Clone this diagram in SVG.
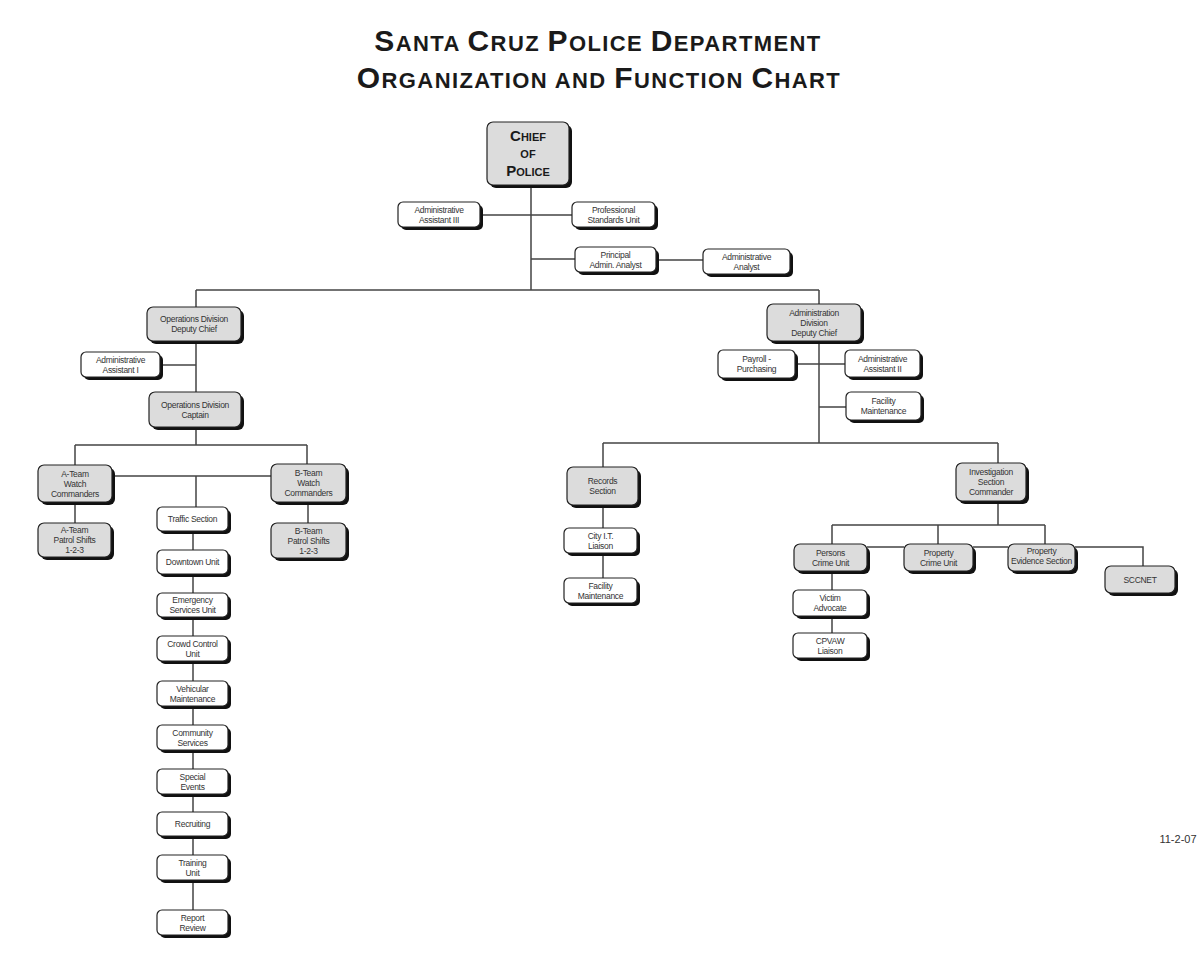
<svg xmlns="http://www.w3.org/2000/svg" width="1200" height="953" viewBox="0 0 1200 953">
<style>
.bg{fill:#ffffff}
.ttl{font-family:"Liberation Sans",Arial,sans-serif;font-weight:bold;fill:#1a1a1a;text-anchor:middle}
.tt{letter-spacing:1.4px}
.L{font-size:30px}
.s{font-size:22px}
.cL{font-size:15px}
.cs{font-size:11px}
.sh{fill:#111}
.w{fill:#ffffff;stroke:#222;stroke-width:1.2}
.g{fill:#dcdcdc;stroke:#222;stroke-width:1.2}
.t{font-family:"Liberation Sans",Arial,sans-serif;font-size:8.5px;fill:#333;text-anchor:middle;letter-spacing:-0.3px}
.ln{fill:none;stroke:#444;stroke-width:1.5}
.date{font-family:"Liberation Sans",Arial,sans-serif;font-size:11px;fill:#333;text-anchor:middle}
</style>
<rect class="bg" x="0" y="0" width="1200" height="953"/>
<g id="title">
<text class="ttl tt" x="598" y="51"><tspan class="L">S</tspan><tspan class="s">ANTA </tspan><tspan class="L">C</tspan><tspan class="s">RUZ </tspan><tspan class="L">P</tspan><tspan class="s">OLICE </tspan><tspan class="L">D</tspan><tspan class="s">EPARTMENT</tspan></text>
<text class="ttl tt" x="599" y="88"><tspan class="L">O</tspan><tspan class="s">RGANIZATION AND </tspan><tspan class="L">F</tspan><tspan class="s">UNCTION </tspan><tspan class="L">C</tspan><tspan class="s">HART</tspan></text>
</g>
<g id="connectors">
<path class="ln" d="M531 185V290M480 215H572M531 259H575M656 260H703"/>
<path class="ln" d="M196 290H819"/>
<path class="ln" d="M196 290V307M196 341V392M160 365H196M196 427V445M75 445H307M75 445V465M307 445V464M112 476H271M196 476V507M75 502V523M308 502V523M193 531V910"/>
<path class="ln" d="M819 290V304M819 341V443M795 364H845M819 407H846M603 443H998M603 443V467M998 443V463M603 505V578"/>
<path class="ln" d="M998 501V525M832 525H1045M832 525V544M938 525V544M1045 525V544M867 547H904M973 547H1008M1075 547H1143V566M832 571V633"/>
</g>
<g id="chief"><rect class="sh" x="490" y="125" width="82" height="63" rx="6"/><rect class="g" x="487" y="122" width="82" height="63" rx="6"/>
<text class="ttl" x="528" y="141"><tspan class="cL">C</tspan><tspan class="cs">HIEF</tspan></text>
<text class="ttl" x="528" y="158"><tspan class="cs">OF</tspan></text>
<text class="ttl" x="528" y="176"><tspan class="cL">P</tspan><tspan class="cs">OLICE</tspan></text></g>
<g id="aa3"><rect class="sh" x="401" y="205" width="82" height="25" rx="5"/><rect class="w" x="398" y="202" width="82" height="25" rx="5"/><text class="t" x="439" y="212.5">Administrative</text><text class="t" x="439" y="222.5">Assistant III</text></g>
<g id="psu"><rect class="sh" x="575" y="205" width="83" height="25" rx="5"/><rect class="w" x="572" y="202" width="83" height="25" rx="5"/><text class="t" x="613.5" y="212.5">Professional</text><text class="t" x="613.5" y="222.5">Standards Unit</text></g>
<g id="paa"><rect class="sh" x="578" y="250" width="81" height="25" rx="5"/><rect class="w" x="575" y="247" width="81" height="25" rx="5"/><text class="t" x="615.5" y="257.5">Principal</text><text class="t" x="615.5" y="267.5">Admin. Analyst</text></g>
<g id="aan"><rect class="sh" x="706" y="252" width="87" height="25" rx="5"/><rect class="w" x="703" y="249" width="87" height="25" rx="5"/><text class="t" x="746.5" y="259.5">Administrative</text><text class="t" x="746.5" y="269.5">Analyst</text></g>
<g id="opsdc"><rect class="sh" x="150" y="310" width="94" height="34" rx="6"/><rect class="g" x="147" y="307" width="94" height="34" rx="6"/><text class="t" x="194" y="322">Operations Division</text><text class="t" x="194" y="332">Deputy Chief</text></g>
<g id="aa1"><rect class="sh" x="84" y="355" width="79" height="25" rx="5"/><rect class="w" x="81" y="352" width="79" height="25" rx="5"/><text class="t" x="120.5" y="362.5">Administrative</text><text class="t" x="120.5" y="372.5">Assistant I</text></g>
<g id="opscap"><rect class="sh" x="152" y="395" width="92" height="35" rx="6"/><rect class="g" x="149" y="392" width="92" height="35" rx="6"/><text class="t" x="195" y="407.5">Operations Division</text><text class="t" x="195" y="417.5">Captain</text></g>
<g id="ateam"><rect class="sh" x="41" y="468" width="74" height="37" rx="6"/><rect class="g" x="38" y="465" width="74" height="37" rx="6"/><text class="t" x="75" y="476.5">A-Team</text><text class="t" x="75" y="486.5">Watch</text><text class="t" x="75" y="496.5">Commanders</text></g>
<g id="bteam"><rect class="sh" x="274" y="467" width="75" height="38" rx="6"/><rect class="g" x="271" y="464" width="75" height="38" rx="6"/><text class="t" x="308.5" y="476">B-Team</text><text class="t" x="308.5" y="486">Watch</text><text class="t" x="308.5" y="496">Commanders</text></g>
<g id="apatrol"><rect class="sh" x="41" y="526" width="73" height="34" rx="6"/><rect class="g" x="38" y="523" width="73" height="34" rx="6"/><text class="t" x="74.5" y="533">A-Team</text><text class="t" x="74.5" y="543">Patrol Shifts</text><text class="t" x="74.5" y="553">1-2-3</text></g>
<g id="bpatrol"><rect class="sh" x="274" y="526" width="75" height="35" rx="6"/><rect class="g" x="271" y="523" width="75" height="35" rx="6"/><text class="t" x="308.5" y="533.5">B-Team</text><text class="t" x="308.5" y="543.5">Patrol Shifts</text><text class="t" x="308.5" y="553.5">1-2-3</text></g>
<g id="traffic"><rect class="sh" x="160" y="510" width="71" height="24" rx="5"/><rect class="w" x="157" y="507" width="71" height="24" rx="5"/><text class="t" x="192.5" y="522">Traffic Section</text></g>
<g id="downtown"><rect class="sh" x="160" y="553" width="71" height="24" rx="5"/><rect class="w" x="157" y="550" width="71" height="24" rx="5"/><text class="t" x="192.5" y="565">Downtown Unit</text></g>
<g id="emergency"><rect class="sh" x="160" y="596" width="71" height="24" rx="5"/><rect class="w" x="157" y="593" width="71" height="24" rx="5"/><text class="t" x="192.5" y="603">Emergency</text><text class="t" x="192.5" y="613">Services Unit</text></g>
<g id="crowd"><rect class="sh" x="160" y="639" width="71" height="25" rx="5"/><rect class="w" x="157" y="636" width="71" height="25" rx="5"/><text class="t" x="192.5" y="646.5">Crowd Control</text><text class="t" x="192.5" y="656.5">Unit</text></g>
<g id="vehicular"><rect class="sh" x="160" y="684" width="71" height="25" rx="5"/><rect class="w" x="157" y="681" width="71" height="25" rx="5"/><text class="t" x="192.5" y="691.5">Vehicular</text><text class="t" x="192.5" y="701.5">Maintenance</text></g>
<g id="community"><rect class="sh" x="160" y="728" width="71" height="25" rx="5"/><rect class="w" x="157" y="725" width="71" height="25" rx="5"/><text class="t" x="192.5" y="735.5">Community</text><text class="t" x="192.5" y="745.5">Services</text></g>
<g id="special"><rect class="sh" x="160" y="772" width="71" height="25" rx="5"/><rect class="w" x="157" y="769" width="71" height="25" rx="5"/><text class="t" x="192.5" y="779.5">Special</text><text class="t" x="192.5" y="789.5">Events</text></g>
<g id="recruiting"><rect class="sh" x="160" y="815" width="71" height="24" rx="5"/><rect class="w" x="157" y="812" width="71" height="24" rx="5"/><text class="t" x="192.5" y="827">Recruiting</text></g>
<g id="training"><rect class="sh" x="160" y="858" width="71" height="25" rx="5"/><rect class="w" x="157" y="855" width="71" height="25" rx="5"/><text class="t" x="192.5" y="865.5">Training</text><text class="t" x="192.5" y="875.5">Unit</text></g>
<g id="report"><rect class="sh" x="160" y="913" width="71" height="25" rx="5"/><rect class="w" x="157" y="910" width="71" height="25" rx="5"/><text class="t" x="192.5" y="920.5">Report</text><text class="t" x="192.5" y="930.5">Review</text></g>
<g id="admdc"><rect class="sh" x="770" y="307" width="94" height="37" rx="6"/><rect class="g" x="767" y="304" width="94" height="37" rx="6"/><text class="t" x="814" y="315.5">Administration</text><text class="t" x="814" y="325.5">Division</text><text class="t" x="814" y="335.5">Deputy Chief</text></g>
<g id="payroll"><rect class="sh" x="721" y="353" width="77" height="28" rx="5"/><rect class="w" x="718" y="350" width="77" height="28" rx="5"/><text class="t" x="756.5" y="362">Payroll -</text><text class="t" x="756.5" y="372">Purchasing</text></g>
<g id="aa2"><rect class="sh" x="848" y="353" width="75" height="27" rx="5"/><rect class="w" x="845" y="350" width="75" height="27" rx="5"/><text class="t" x="882.5" y="361.5">Administrative</text><text class="t" x="882.5" y="371.5">Assistant II</text></g>
<g id="facility1"><rect class="sh" x="849" y="395" width="75" height="28" rx="5"/><rect class="w" x="846" y="392" width="75" height="28" rx="5"/><text class="t" x="883.5" y="404">Facility</text><text class="t" x="883.5" y="414">Maintenance</text></g>
<g id="records"><rect class="sh" x="570" y="470" width="71" height="38" rx="6"/><rect class="g" x="567" y="467" width="71" height="38" rx="6"/><text class="t" x="602.5" y="484">Records</text><text class="t" x="602.5" y="494">Section</text></g>
<g id="cityit"><rect class="sh" x="567" y="531" width="73" height="25" rx="5"/><rect class="w" x="564" y="528" width="73" height="25" rx="5"/><text class="t" x="600.5" y="538.5">City I.T.</text><text class="t" x="600.5" y="548.5">Liaison</text></g>
<g id="facility2"><rect class="sh" x="567" y="581" width="73" height="25" rx="5"/><rect class="w" x="564" y="578" width="73" height="25" rx="5"/><text class="t" x="600.5" y="588.5">Facility</text><text class="t" x="600.5" y="598.5">Maintenance</text></g>
<g id="inv"><rect class="sh" x="959" y="466" width="70" height="38" rx="6"/><rect class="g" x="956" y="463" width="70" height="38" rx="6"/><text class="t" x="991" y="475">Investigation</text><text class="t" x="991" y="485">Section</text><text class="t" x="991" y="495">Commander</text></g>
<g id="persons"><rect class="sh" x="797" y="547" width="73" height="27" rx="6"/><rect class="g" x="794" y="544" width="73" height="27" rx="6"/><text class="t" x="830.5" y="555.5">Persons</text><text class="t" x="830.5" y="565.5">Crime Unit</text></g>
<g id="propcrime"><rect class="sh" x="907" y="547" width="69" height="27" rx="6"/><rect class="g" x="904" y="544" width="69" height="27" rx="6"/><text class="t" x="938.5" y="555.5">Property</text><text class="t" x="938.5" y="565.5">Crime Unit</text></g>
<g id="propevid"><rect class="sh" x="1011" y="547" width="67" height="27" rx="6"/><rect class="g" x="1008" y="544" width="67" height="27" rx="6"/><text class="t" x="1041.5" y="554">Property</text><text class="t" x="1041.5" y="564">Evidence Section</text></g>
<g id="sccnet"><rect class="sh" x="1108" y="569" width="70" height="27" rx="6"/><rect class="g" x="1105" y="566" width="70" height="27" rx="6"/><text class="t" x="1140" y="582.5">SCCNET</text></g>
<g id="victim"><rect class="sh" x="796" y="593" width="74" height="26" rx="5"/><rect class="w" x="793" y="590" width="74" height="26" rx="5"/><text class="t" x="830" y="601">Victim</text><text class="t" x="830" y="611">Advocate</text></g>
<g id="cpvaw"><rect class="sh" x="796" y="636" width="74" height="25" rx="5"/><rect class="w" x="793" y="633" width="74" height="25" rx="5"/><text class="t" x="830" y="643.5">CPVAW</text><text class="t" x="830" y="653.5">Liaison</text></g>
<text class="date" x="1178" y="843">11-2-07</text>
</svg>
